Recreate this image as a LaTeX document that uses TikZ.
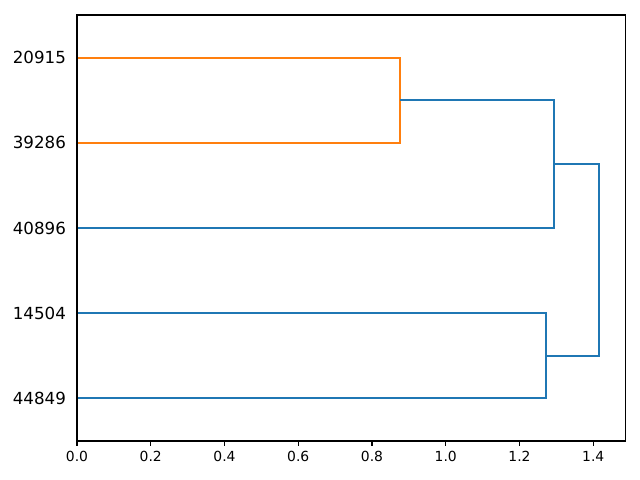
\documentclass[tikz,border=0pt]{standalone}
\usepackage{fontspec}
\setmainfont{DejaVu Sans}
\definecolor{tabblue}{HTML}{1F77B4}
\definecolor{taborange}{HTML}{FF7F0E}
\tikzset{
  link/.style={line width=1.5pt,color=tabblue},
  leaflabel/.style={anchor=east,inner sep=0pt,font=\fontsize{12}{14}\selectfont}
}
\begin{document}
\begin{tikzpicture}[x=265.5pt,y=6.134pt]
  \useasboundingbox (-0.2088,-4.577) rectangle (1.5268,51.76);

  % leaves (bottom to top)
  \coordinate (e) at (0,5);
  \coordinate (d) at (0,15);
  \coordinate (c) at (0,25);
  \coordinate (b) at (0,35);
  \coordinate (a) at (0,45);
  % merges
  \coordinate (ab) at (0.876,40);
  \coordinate (abc) at (1.2936,32.5);
  \coordinate (de) at (1.2719,10);
  \coordinate (root) at (1.4156,21.25);

  \draw[link,color=taborange] (a) -| (ab) |- (b);
  \draw[link] (ab) -| (abc) |- (c);
  \draw[link] (d) -| (de) |- (e);
  \draw[link] (abc) -| (root) |- (de);

  \node[leaflabel,xshift=-7.8pt] (t20915) at (a) {20915};
  \node[leaflabel,xshift=-7.8pt] (t39286) at (b) {39286};
  \node[leaflabel,xshift=-7.8pt] (t40896) at (c) {40896};
  \node[leaflabel,xshift=-7.8pt] (t14504) at (d) {14504};
  \node[leaflabel,xshift=-7.8pt] (t44849) at (e) {44849};

  \draw[line width=0.8pt] (0,0) rectangle (1.488,50);
  \foreach \x in {0.0,0.2,0.4,0.6,0.8,1.0,1.2,1.4}
  \draw[shift={(\x,0)},line width=0.8pt] (0pt,0pt) -- (0pt,-3.5pt)
    node[below=3.5pt,inner sep=0pt] {\x};
\end{tikzpicture}
\end{document}
